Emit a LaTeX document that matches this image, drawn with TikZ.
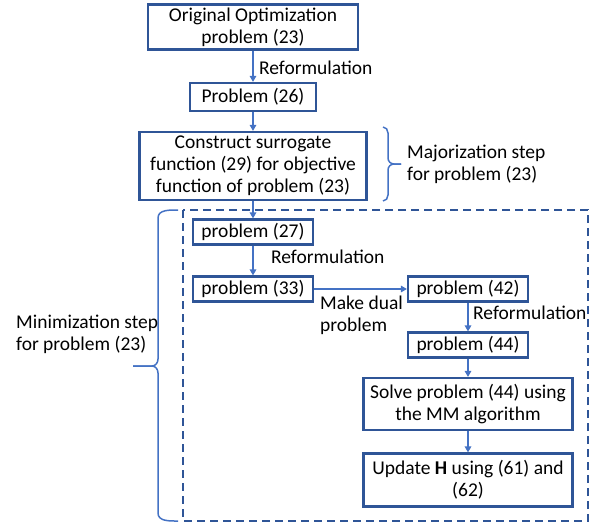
\documentclass[tikz,border=0pt]{standalone}
\usepackage{fontspec}
\setmainfont{Carlito}
\usetikzlibrary{arrows.meta}
\definecolor{boxblue}{HTML}{2F5597}
\definecolor{arrowblue}{HTML}{4472C4}

\begin{document}
\begin{tikzpicture}[x=1pt,y=-1pt,
	font=\fontsize{19.5}{22}\selectfont,
	box/.style={draw=boxblue, line width=2.2pt, fill=white, align=center, inner sep=0pt},
	flowarrow/.style={draw=arrowblue, line width=1.5pt, -{Triangle[length=6pt,width=6.5pt]}},
	bracepath/.style={draw=arrowblue, line width=1.5pt},
	note/.style={align=left, inner sep=0pt}]
	\useasboundingbox (0,0) rectangle (599,525);
	% boxes of the upper chain
	\node[box, minimum width=210pt, minimum height=45pt] (orig) at (253,27) {Original Optimization\\problem (23)};
	\node[box, minimum width=126pt, minimum height=28pt] (prob26) at (253,97) {Problem (26)};
	\node[box, minimum width=227pt, minimum height=68pt] (surrogate) at (253,166) {Construct surrogate\\function (29) for objective\\function of problem (23)};
	% dashed frame of the minimization step
	\draw[boxblue, line width=2pt, dash pattern=on 8pt off 5pt] (183,210) rectangle (588,521);
	% boxes inside the frame
	\node[box, minimum width=120pt, minimum height=25pt] (prob27) at (253,232) {problem (27)};
	\node[box, minimum width=120pt, minimum height=25pt] (prob33) at (253,289) {problem (33)};
	\node[box, minimum width=120pt, minimum height=25pt] (prob42) at (468,289) {problem (42)};
	\node[box, minimum width=120pt, minimum height=25pt] (prob44) at (468,345) {problem (44)};
	\node[box, minimum width=209pt, minimum height=52pt] (solveMM) at (468,404) {Solve problem (44) using\\the MM algorithm};
	\node[box, minimum width=209pt, minimum height=53pt] (updateH) at (468,480) {Update \textbf{H} using (61) and\\(62)};
	% connectors
	\draw[flowarrow] (orig) -- (prob26);
	\draw[flowarrow] (prob26) -- (surrogate);
	\draw[flowarrow] (surrogate) -- (prob27);
	\draw[flowarrow] (prob27) -- (prob33);
	\draw[flowarrow] (prob33) -- (prob42);
	\draw[flowarrow] (prob42) -- (prob44);
	\draw[flowarrow] (prob44) -- (solveMM);
	\draw[flowarrow] (solveMM) -- (updateH);
	% connector labels
	\node[note, anchor=west] (ref1) at (259,68) {Reformulation};
	\node[note, anchor=west] (ref2) at (271,257) {Reformulation};
	\node[note, anchor=west] (ref3) at (473,313) {Reformulation};
	\node[note, anchor=north west] (dual) at (320,296) {Make dual\\problem};
	% braces
	\draw[bracepath] (383,127) to[out=0,in=90] (388,133) -- (388,158) to[out=-90,in=180] (394,164) -- (401,164);
	\draw[bracepath] (401,164) -- (394,164) to[out=180,in=90] (388,170) -- (388,195) to[out=-90,in=0] (383,201);
	\draw[bracepath] (178,210) to[out=180,in=90] (158,218) -- (158,359) to[out=-90,in=0] (152,366) -- (133,366);
	\draw[bracepath] (133,366) -- (152,366) to[out=0,in=90] (158,373) -- (158,513) to[out=-90,in=180] (178,521);
	\node[note, anchor=west] (majlabel) at (407,164) {Majorization step\\for problem (23)};
	\node[note, anchor=west] (minlabel) at (16,334) {Minimization step\\for problem (23)};
\end{tikzpicture}
\end{document}
